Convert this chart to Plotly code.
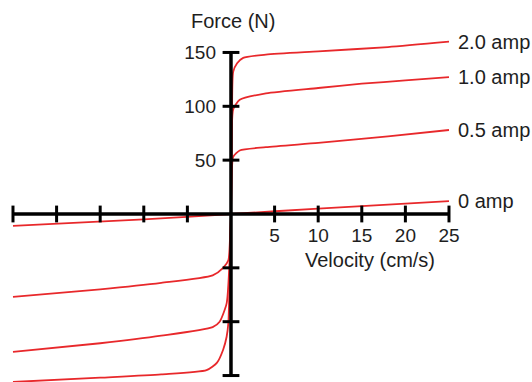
import plotly.graph_objects as go

# ---- data ----
series_names = ["2.0 amp", "1.0 amp", "0.5 amp", "0 amp"]

vel_20 = [-25, -15, -8, -2.8, -1.6, -0.9, -0.5, -0.3, -0.15, 0, 0.12, 0.25, 0.7, 1.4, 4, 10, 18, 25]
force_20 = [-156, -152, -149, -145, -138, -126, -114, -101, -60, 0, 95, 132, 140, 145, 148, 151, 155, 160]

vel_10 = [-25, -15, -8, -2.1, -1.3, -0.5, -0.2, 0, 0.1, 0.25, 1, 4, 10, 15, 20, 25]
force_10 = [-128, -120, -113, -105, -100, -83, -50, 0, 80, 97, 106, 112, 117, 121, 124, 127]

vel_05 = [-25, -15, -8, -2.1, -0.9, -0.3, -0.1, 0, 0.1, 0.25, 1, 4, 10, 18, 25]
force_05 = [-77, -70, -64, -57, -50, -43, -20, 0, 40, 53, 59, 62, 66, 72, 78]

vel_00 = [-25, -10, 0, 10, 25]
force_00 = [-11, -5, 0, 5, 12]

x_ticks = [-25, -20, -15, -10, -5, 5, 10, 15, 20, 25]
x_tick_labels = [5, 10, 15, 20, 25]
y_ticks = [-150, -100, -50, 50, 100, 150]
y_tick_labels = [50, 100, 150]

x_title = "Velocity (cm/s)"
y_title = "Force (N)"

# ---- figure ----
FONT = "Liberation Sans, Arial, sans-serif"
TXT = "#1e1e1e"
RED = "#e8282b"

XR = [-26.49, 34.52]
YR = [-156.0, 198.7]

fig = go.Figure()

all_series = [(vel_20, force_20), (vel_10, force_10), (vel_05, force_05), (vel_00, force_00)]
for name, (xs, ys) in zip(series_names, all_series):
    fig.add_trace(go.Scatter(x=xs, y=ys, mode="lines", name=name,
                             line=dict(color=RED, width=1.8, shape="spline", smoothing=0.6),
                             showlegend=False, hoverinfo="skip"))
    fig.add_annotation(x=xs[-1], y=ys[-1], text=name, showarrow=False,
                       xanchor="left", yanchor="middle", xshift=7,
                       font=dict(family=FONT, size=20, color=TXT))

# axis lines through origin
fig.add_shape(type="line", x0=x_ticks[0], x1=x_ticks[-1], y0=0, y1=0,
              line=dict(color="black", width=3.5), layer="above")
fig.add_shape(type="line", x0=0, x1=0, y0=y_ticks[0], y1=y_ticks[-1],
              line=dict(color="black", width=3.5), layer="above")

# tick marks crossing the axes
fig.add_trace(go.Scatter(x=x_ticks, y=[0] * len(x_ticks), mode="markers",
                         marker=dict(symbol="line-ns", size=12, line=dict(color="black", width=3)),
                         showlegend=False, hoverinfo="skip"))
fig.add_trace(go.Scatter(x=[0] * len(y_ticks), y=y_ticks, mode="markers",
                         marker=dict(symbol="line-ew", size=12, line=dict(color="black", width=3)),
                         showlegend=False, hoverinfo="skip"))

x_pos = (0 - YR[0]) / (YR[1] - YR[0])
y_pos = (0 - XR[0]) / (XR[1] - XR[0])

fig.update_layout(
    width=532, height=382,
    margin=dict(l=0, r=0, t=0, b=0),
    paper_bgcolor="white", plot_bgcolor="white",
    font=dict(family=FONT, size=19, color=TXT),
    xaxis=dict(range=XR, showgrid=False, zeroline=False, showline=False,
               tickvals=x_tick_labels, ticks="", anchor="free", position=x_pos,
               ticklabelstandoff=8, tickfont=dict(size=19, color=TXT), fixedrange=True),
    yaxis=dict(range=YR, showgrid=False, zeroline=False, showline=False,
               tickvals=y_tick_labels, ticks="", anchor="free", position=y_pos,
               ticklabelstandoff=15, tickfont=dict(size=19, color=TXT), fixedrange=True),
)

fig.add_annotation(x=233 / 532, y=1 - 21 / 382, xref="paper", yref="paper", text=y_title,
                   showarrow=False, xanchor="center", yanchor="middle",
                   font=dict(family=FONT, size=20, color=TXT))
fig.add_annotation(x=370 / 532, y=1 - 260 / 382, xref="paper", yref="paper", text=x_title,
                   showarrow=False, xanchor="center", yanchor="middle",
                   font=dict(family=FONT, size=20, color=TXT))

fig.write_html("out.html", config={"displayModeBar": False},
               post_script="document.body.style.margin='0';")
